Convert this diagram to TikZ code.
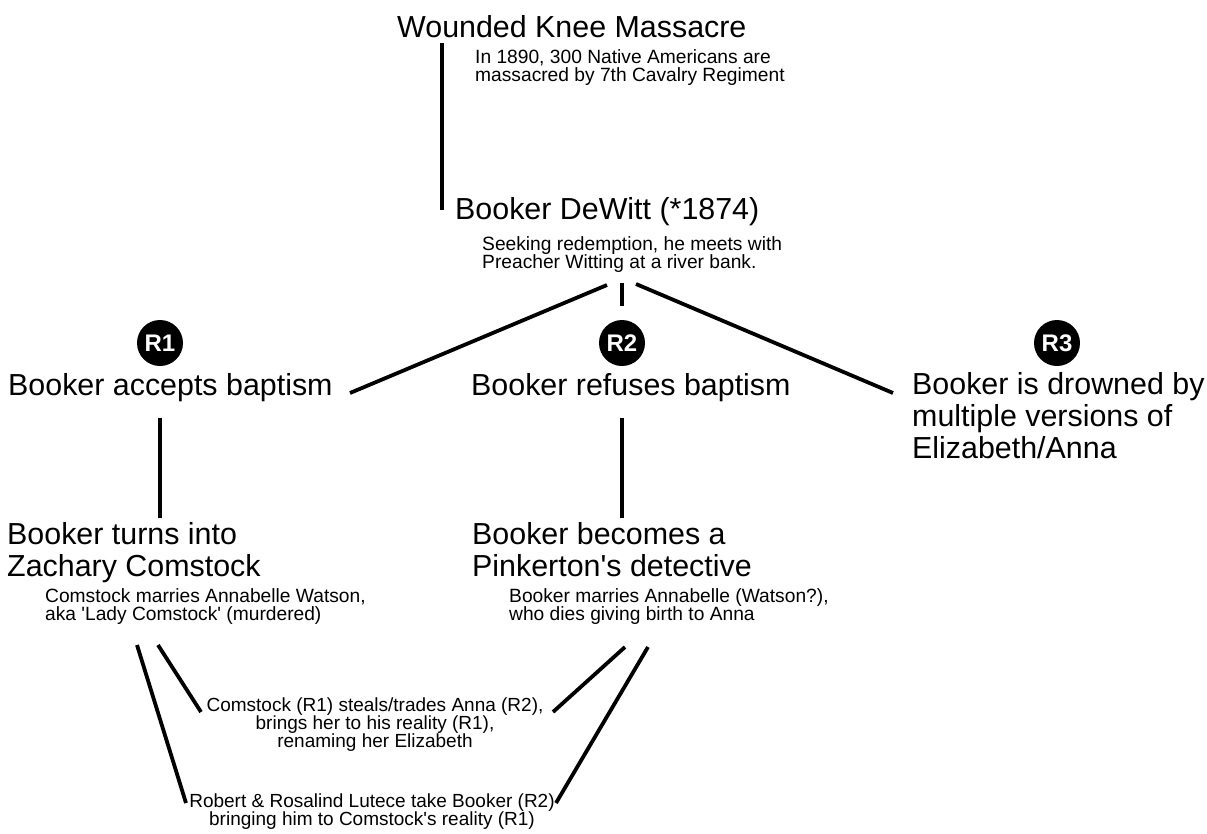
\documentclass[tikz,border=0pt]{standalone}
\usepackage{fontspec}
\setmainfont{Liberation Sans}[Ligatures=TeXOff]
\begin{document}
\begin{tikzpicture}[x=1pt,y=-1pt,
  big/.style={anchor=north west,inner sep=0pt,align=left,font=\fontsize{30.4}{32}\selectfont},
  small/.style={anchor=north west,inner sep=0pt,align=left,font=\fontsize{19.2}{18}\selectfont},
  smallc/.style={anchor=north,inner sep=0pt,align=center,font=\fontsize{19}{18}\selectfont},
  badge/.style={circle,fill=black,text=white,minimum size=46pt,inner sep=0pt,font=\fontsize{24}{24}\selectfont\bfseries},
  link/.style={line width=3.8pt}]
\useasboundingbox (0,0) rectangle (1207,833);
% texts
\node[big] (wk) at (397,15) {Wounded Knee Massacre};
\node[small] (wks) at (475,49) {In 1890, 300 Native Americans are\\massacred by 7th Cavalry Regiment};
\node[big] (bd) at (455,197) {Booker DeWitt (*1874)};
\node[small] (bds) at (482,236) {Seeking redemption, he meets with\\Preacher Witting at a river bank.};
\node[badge] (r1) at (160,343) {R1};
\node[badge] (r2) at (622,343) {R2};
\node[badge] (r3) at (1057,343) {R3};
\node[big] (acc) at (8,373) {Booker accepts baptism};
\node[big] (ref) at (471,373) {Booker refuses baptism};
\node[big] (drw) at (912,372) {Booker is drowned by\\multiple versions of\\Elizabeth/Anna};
\node[big] (zc) at (7,522) {Booker turns into\\Zachary Comstock};
\node[big] (pk) at (472,522) {Booker becomes a\\Pinkerton's detective};
\node[small] (zcs) at (45,588) {Comstock marries Annabelle Watson,\\aka 'Lady Comstock' (murdered)};
\node[small] (pks) at (509,588) {Booker marries Annabelle (Watson?),\\who dies giving birth to Anna};
\node[smallc] (steal) at (375,698) {Comstock (R1) steals/trades Anna (R2),\\brings her to his reality (R1),\\renaming her Elizabeth};
\node[smallc] (lut) at (372,794) {Robert \& Rosalind Lutece take Booker (R2)\\bringing him to Comstock's reality (R1)};
% connector end points
\coordinate (wkA) at (442,43);
\coordinate (bdA) at (442,210);
\coordinate (bdL) at (607,285);
\coordinate (bdM) at (622,283);
\coordinate (bdMe) at (622,306);
\coordinate (bdR) at (636,284);
\coordinate (accE) at (350,393);
\coordinate (drwE) at (893,393);
\coordinate (accB) at (160,418);
\coordinate (zcT) at (160,518);
\coordinate (refB) at (622,418);
\coordinate (pkT) at (622,518);
\coordinate (zcO) at (137,645);
\coordinate (zcI) at (158,645);
\coordinate (pkI) at (625,647);
\coordinate (pkO) at (648,647);
\coordinate (stL) at (201,712);
\coordinate (stR) at (553,712);
\coordinate (luL) at (186,803);
\coordinate (luR) at (556,803);
% connectors
\draw[link] (wkA) -- (bdA);
\draw[link] (bdL) -- (accE);
\draw[link] (bdM) -- (bdMe);
\draw[link] (bdR) -- (drwE);
\draw[link] (accB) -- (zcT);
\draw[link] (refB) -- (pkT);
\draw[link] (zcI) -- (stL);
\draw[link] (zcO) -- (luL);
\draw[link] (pkI) -- (stR);
\draw[link] (pkO) -- (luR);
\end{tikzpicture}
\end{document}
